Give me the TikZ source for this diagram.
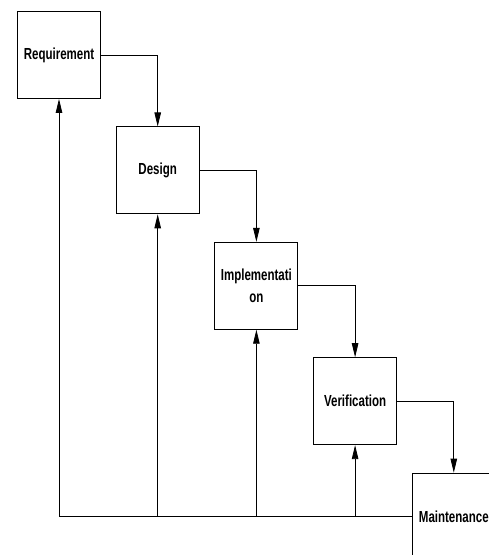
\documentclass[tikz,border=0pt]{standalone}
\usepackage{fontspec}
\newfontfamily\boxfont{Liberation Sans}[FakeStretch=0.72]
\usetikzlibrary{arrows.meta, positioning}
\tikzset{
    phase/.style={rectangle, draw, line width=0.9pt, minimum width=83pt, minimum height=87pt, inner sep=0pt, align=center, font=\boxfont\bfseries\fontsize{16}{22}\selectfont},
    arrow/.style={line width=0.8pt, -{Triangle[length=14pt, width=6.5pt]}},
    link/.style={line width=0.8pt}
}

\begin{document}
\begin{tikzpicture}[x=1pt, y=1pt, node distance=27.5pt and 14.8pt]
            \clip (0,0) rectangle (489,555);
            \useasboundingbox (0,0) rectangle (489,555);
            \node[phase] (requirement) at (59,500) {Requirement};
            \node[phase] (design) [below right=of requirement.south east, anchor=north west] {Design};
            \node[phase] (implementation) [below right=of design.south east, anchor=north west] {Implementati\\on};
            \node[phase] (verification) [below right=of implementation.south east, anchor=north west] {Verification};
            \node[phase] (maintenance) [below right=of verification.south east, anchor=north west] {Maintenance};

            \draw[arrow] (requirement.east) -| (design.north);
            \draw[arrow] (design.east) -| (implementation.north);
            \draw[arrow] (implementation.east) -| (verification.north);
            \draw[arrow] (verification.east) -| (maintenance.north);

            \draw[link] (requirement |- maintenance.west) -- (maintenance.west);
            \draw[arrow] (requirement |- maintenance.west) -- (requirement.south);
            \draw[arrow] (design |- maintenance.west) -- (design.south);
            \draw[arrow] (implementation |- maintenance.west) -- (implementation.south);
            \draw[arrow] (verification |- maintenance.west) -- (verification.south);
        \end{tikzpicture}
\end{document}
